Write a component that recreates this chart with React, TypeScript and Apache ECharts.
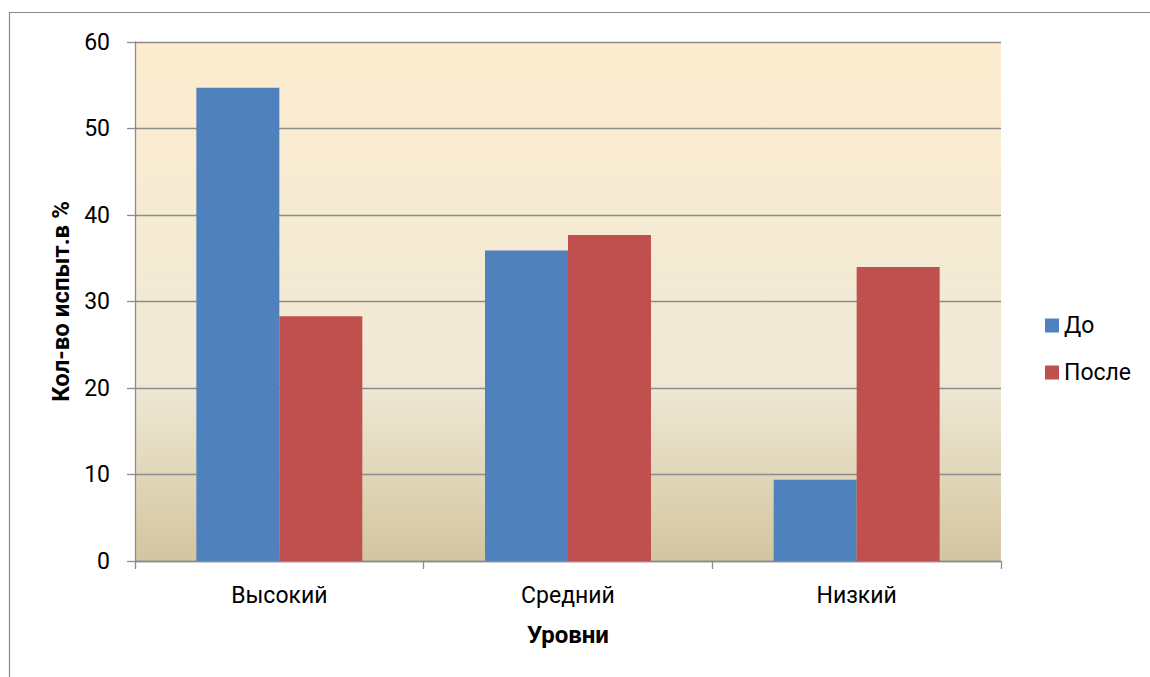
import React, { useEffect, useRef } from "react";
import * as echarts from "echarts";

const categories = ["Высокий", "Средний", "Низкий"];
const seriesBefore = [54.7, 35.9, 9.4];
const seriesAfter = [28.3, 37.7, 34.0];
const seriesNames = ["До", "После"];
const xAxisTitle = "Уровни";
const yAxisTitle = "Кол-во испыт.в %";

const FONT = "Roboto, 'Noto Sans', sans-serif";

export default function App() {
  const ref = useRef<HTMLDivElement>(null);
  useEffect(() => {
    document.body.style.margin = "0";
    const chart = echarts.init(ref.current!, null, { renderer: "svg" });
    chart.setOption({
      animation: false,
      backgroundColor: "#ffffff",
      textStyle: { fontFamily: FONT },
      graphic: [
        {
          type: "rect",
          shape: { x: 9.5, y: 12.5, width: 1200, height: 720 },
          style: { fill: "none", stroke: "#8a8a8a", lineWidth: 1.2 },
          silent: true,
          z: -1,
        },
      ],
      grid: {
        left: 135,
        right: 149,
        top: 42,
        bottom: 116,
        show: true,
        borderWidth: 0,
        backgroundColor: new echarts.graphic.LinearGradient(0, 0, 0, 1, [
          { offset: 0, color: "#FDECCF" },
          { offset: 0.65, color: "#EFE9D6" },
          { offset: 1, color: "#D3C59F" },
        ]),
      },
      legend: {
        orient: "vertical",
        left: 1045,
        top: 314,
        padding: 0,
        itemWidth: 14,
        itemHeight: 14,
        itemGap: 24,
        icon: "rect",
        textStyle: { fontFamily: FONT, fontSize: 23, color: "#000" },
        data: seriesNames,
      },
      xAxis: {
        type: "category",
        data: categories,
        name: xAxisTitle,
        nameLocation: "middle",
        nameGap: 62,
        nameTextStyle: { fontFamily: FONT, fontSize: 24, fontWeight: "bold", color: "#000" },
        axisLine: { show: true, lineStyle: { color: "#8c8c8c", width: 1.3 } },
        axisTick: { show: true, length: 8, alignWithLabel: false, lineStyle: { color: "#8c8c8c", width: 1.3 } },
        axisLabel: { fontFamily: FONT, fontSize: 23, color: "#000", margin: 23 },
      },
      yAxis: {
        type: "value",
        min: 0,
        max: 60,
        interval: 10,
        name: yAxisTitle,
        nameLocation: "middle",
        nameGap: 61,
        nameRotate: 90,
        nameTextStyle: { fontFamily: FONT, fontSize: 24, fontWeight: "bold", color: "#000" },
        axisLine: { show: true, lineStyle: { color: "#8c8c8c", width: 1.3 } },
        axisTick: { show: true, length: 8, lineStyle: { color: "#8c8c8c", width: 1.3 } },
        axisLabel: { fontFamily: FONT, fontSize: 23, color: "#000", margin: 25 },
        splitLine: { show: true, lineStyle: { color: "#8c8c8c", width: 1.3 } },
      },
      series: [
        {
          name: seriesNames[0],
          type: "bar",
          data: seriesBefore,
          barGap: "0%",
          barCategoryGap: "42.5%",
          itemStyle: { color: "#4F81BD" },
        },
        {
          name: seriesNames[1],
          type: "bar",
          data: seriesAfter,
          barGap: "0%",
          barCategoryGap: "42.5%",
          itemStyle: { color: "#C0504D" },
        },
      ],
    });
    return () => chart.dispose();
  }, []);
  return <div ref={ref} style={{ width: 1150, height: 677 }} />;
}
